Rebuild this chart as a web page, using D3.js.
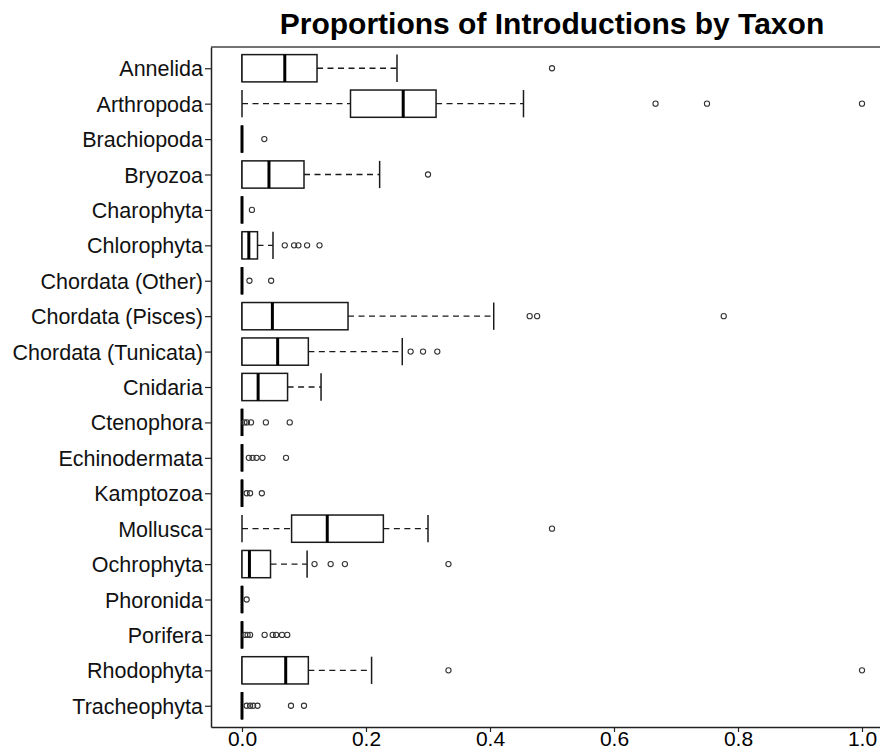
<!DOCTYPE html>
<html>
<head>
<meta charset="utf-8">
<script src="https://cdn.jsdelivr.net/npm/d3@7"></script>
<style>
  html, body { margin: 0; padding: 0; background: #fff; }
  svg { display: block; font-family: "Liberation Sans", Arial, sans-serif; }
</style>
</head>
<body>
<svg id="chart" width="880" height="750"></svg>
<script>
// Taxa in display order (top to bottom)
const taxa = ["Annelida", "Arthropoda", "Brachiopoda", "Bryozoa", "Charophyta",
  "Chlorophyta", "Chordata (Other)", "Chordata (Pisces)", "Chordata (Tunicata)",
  "Cnidaria", "Ctenophora", "Echinodermata", "Kamptozoa", "Mollusca",
  "Ochrophyta", "Phoronida", "Porifera", "Rhodophyta", "Tracheophyta"];

// Five-number summaries per taxon
const whiskerLow  = [0, 0, 0, 0, 0, 0, 0, 0, 0, 0, 0, 0, 0, 0, 0, 0, 0, 0, 0];
const q1          = [0, 0.175, 0, 0, 0, 0, 0, 0, 0, 0, 0, 0, 0, 0.08, 0, 0, 0, 0, 0];
const median      = [0.069, 0.26, 0, 0.0435, 0, 0.011, 0, 0.049, 0.0575, 0.026, 0, 0, 0, 0.1375, 0.012, 0, 0, 0.0705, 0];
const q3          = [0.121, 0.313, 0, 0.1, 0, 0.025, 0, 0.171, 0.107, 0.0735, 0, 0, 0, 0.228, 0.046, 0, 0, 0.107, 0];
const whiskerHigh = [0.25, 0.454, 0, 0.222, 0, 0.05, 0, 0.406, 0.2585, 0.1275, 0, 0, 0, 0.3, 0.105, 0, 0, 0.209, 0];

// Outlying observations per taxon
const outliers = [
  [0.5],
  [0.667, 0.75, 1.0],
  [0.036],
  [0.3],
  [0.016],
  [0.069, 0.084, 0.091, 0.105, 0.125],
  [0.012, 0.047],
  [0.464, 0.476, 0.777],
  [0.272, 0.292, 0.315],
  [],
  [0.004, 0.008, 0.0145, 0.0385, 0.077],
  [0.011, 0.017, 0.0235, 0.033, 0.071],
  [0.0075, 0.013, 0.032],
  [0.5],
  [0.117, 0.143, 0.166, 0.333],
  [0.0075],
  [0.005, 0.009, 0.013, 0.0365, 0.0495, 0.055, 0.0645, 0.073],
  [0.333, 1.0],
  [0.0075, 0.013, 0.018, 0.025, 0.079, 0.1]
];

const xTicks = [0, 0.2, 0.4, 0.6, 0.8, 1.0];
const title = "Proportions of Introductions by Taxon";

const rows = taxa.map((t, i) => ({
  taxon: t, lo: whiskerLow[i], q1: q1[i], med: median[i], q3: q3[i],
  hi: whiskerHigh[i], out: outliers[i]
}));

const svg = d3.select("#chart");
const panel = { left: 211, right: 893, top: 47, bottom: 727 };

const x = d3.scaleLinear().domain([-0.05, 1.05]).range([panel.left, panel.right]);
const y = d3.scalePoint().domain(taxa).range([panel.top, panel.bottom]).padding(0.6);
const boxH = y.step() * 0.77;

const ink = "#1a1a1a";

// Title
svg.append("text")
  .attr("x", (panel.left + panel.right) / 2)
  .attr("y", 34)
  .attr("text-anchor", "middle")
  .attr("font-size", 30)
  .attr("font-weight", "bold")
  .attr("fill", "#000")
  .text(title);

// Panel top border
svg.append("line")
  .attr("x1", panel.left).attr("x2", panel.right)
  .attr("y1", panel.top).attr("y2", panel.top)
  .attr("stroke", "#444").attr("stroke-width", 1.5);

// Axes
const xAxis = d3.axisBottom(x).tickValues(xTicks).tickFormat(d3.format(".1f")).tickSize(5).tickSizeOuter(0);
const gx = svg.append("g").attr("transform", `translate(0,${panel.bottom})`).call(xAxis);
gx.select(".domain").attr("stroke", "#222").attr("stroke-width", 1.5);
gx.selectAll(".tick line").attr("stroke", "#222").attr("stroke-width", 1.2);
gx.selectAll(".tick text").attr("font-size", 21).attr("fill", "#000")
  .attr("font-family", "Liberation Sans, Arial, sans-serif").attr("y", 19).attr("dy", 0);

const yAxis = d3.axisLeft(y).tickSize(6).tickSizeOuter(0);
const gy = svg.append("g").attr("transform", `translate(${panel.left},0)`).call(yAxis);
gy.select(".domain").attr("stroke", "#222").attr("stroke-width", 1.5);
gy.selectAll(".tick line").attr("stroke", "#222").attr("stroke-width", 1.2);
gy.selectAll(".tick text").attr("font-size", 21.5).attr("fill", "#111")
  .attr("font-family", "Liberation Sans, Arial, sans-serif").attr("x", -8).attr("dy", "0.35em");

// Boxplots
const g = svg.append("g");
const rowG = g.selectAll("g.box").data(rows).join("g").attr("class", "box")
  .attr("transform", d => `translate(0,${y(d.taxon)})`);

// dashed whiskers
rowG.append("line")
  .attr("x1", d => x(d.q3)).attr("x2", d => x(d.hi))
  .attr("stroke", ink).attr("stroke-width", 1.4).attr("stroke-dasharray", "6,4.5")
  .attr("display", d => d.hi > d.q3 ? null : "none");
rowG.append("line")
  .attr("x1", d => x(d.lo)).attr("x2", d => x(d.q1))
  .attr("stroke", ink).attr("stroke-width", 1.4).attr("stroke-dasharray", "6,4.5")
  .attr("display", d => d.q1 > d.lo ? null : "none");

// whisker caps
rowG.append("line")
  .attr("x1", d => x(d.hi)).attr("x2", d => x(d.hi))
  .attr("y1", -boxH / 2).attr("y2", boxH / 2)
  .attr("stroke", ink).attr("stroke-width", 1.5);
rowG.append("line")
  .attr("x1", d => x(d.lo)).attr("x2", d => x(d.lo))
  .attr("y1", -boxH / 2).attr("y2", boxH / 2)
  .attr("stroke", ink).attr("stroke-width", 1.5);

// boxes
rowG.append("rect")
  .attr("x", d => x(d.q1)).attr("width", d => x(d.q3) - x(d.q1))
  .attr("y", -boxH / 2).attr("height", boxH)
  .attr("fill", "#fff").attr("stroke", ink).attr("stroke-width", 1.5);

// medians
rowG.append("line")
  .attr("x1", d => x(d.med)).attr("x2", d => x(d.med))
  .attr("y1", -boxH / 2).attr("y2", boxH / 2)
  .attr("stroke", "#000").attr("stroke-width", 3);

// outliers
rowG.selectAll("circle").data(d => d.out).join("circle")
  .attr("cx", v => x(v)).attr("cy", 0).attr("r", 2.6)
  .attr("fill", "none").attr("stroke", "#333").attr("stroke-width", 1.1);
</script>
</body>
</html>
